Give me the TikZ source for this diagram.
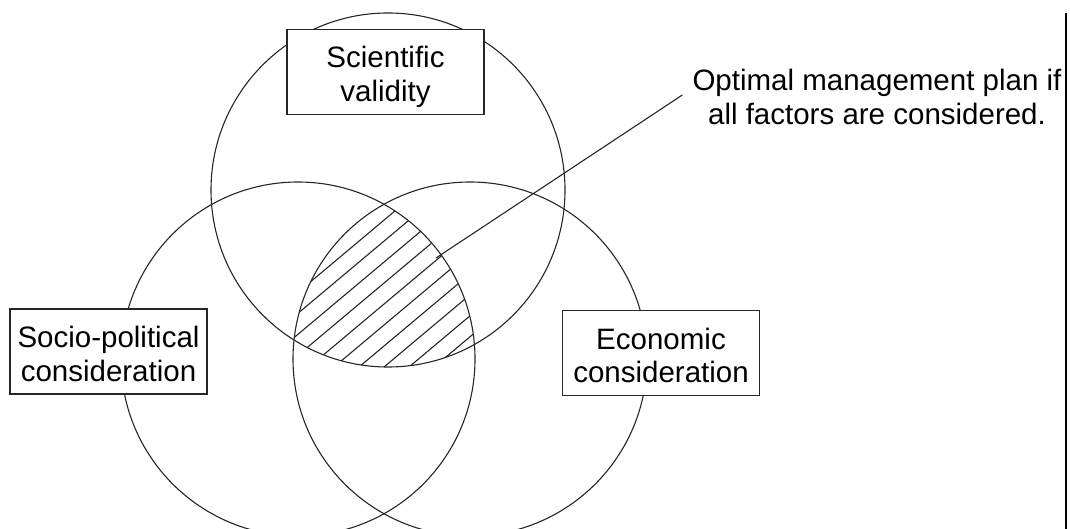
\documentclass[tikz,border=0pt]{standalone}
\usepackage{fontspec}
\setmainfont{Liberation Sans}
\newcommand\lblfont{\fontsize{29.5}{33.5}\selectfont}
\newcommand\topstrut{\rule{0pt}{31.5pt}}
\newcommand\botstrut{\rule[-6pt]{0pt}{6pt}}
\begin{document}
\begin{tikzpicture}[x=1pt,y=-1pt,
  ring/.style={draw=black!85, circle, minimum size=354pt, inner sep=0pt, line width=1.1pt},
  labelbox/.style={draw=black!85, fill=white, line width=1.3pt, minimum width=197pt, minimum height=85pt,
                   inner sep=0pt, align=center, font=\lblfont},
  notetext/.style={inner sep=0pt, align=center, font=\lblfont},
  hatchline/.style={draw=black!85, line width=1.1pt},
  leader/.style={draw=black!85, line width=1.1pt}]
\useasboundingbox (0,0) rectangle (1070,529);
% circles
\node[ring] (sci) at (388,190) {};
\node[ring] (soc) at (298,359) {};
\node[ring] (eco) at (470,359) {};
% hatched triple intersection
\begin{scope}
  \clip (sci.center) circle[radius=177pt];
  \clip (soc.center) circle[radius=177pt];
  \clip (eco.center) circle[radius=177pt];
  \foreach \k in {-12,...,8} {
    \draw[hatchline] ({384+25*\k-250},{367+209.8}) -- ({384+25*\k+250},{367-209.8});
  }
\end{scope}
% label boxes
\node[labelbox] (scibox) at (385.5,72) {\topstrut Scientific\\validity\botstrut};
\node[labelbox] (socbox) at (108.5,351.5) {\topstrut Socio-political\\consideration\botstrut};
\node[labelbox] (ecobox) at (661,353) {\topstrut Economic\\consideration\botstrut};
% note with leader
\node[notetext] (note) at (877,95) {\topstrut Optimal management plan if\\all factors are considered.\botstrut};
\coordinate (lead) at (436,258);
\draw[leader] (lead) -- ([xshift=-10pt]note.west);
% right crop edge
\fill[white] (1066,0) rectangle (1070,529);
\coordinate (edgetop) at (1065.5,13);
\coordinate (edgebot) at (1065.5,529);
\draw[line width=2pt] (edgetop) -- (edgebot);
\end{tikzpicture}
\end{document}
